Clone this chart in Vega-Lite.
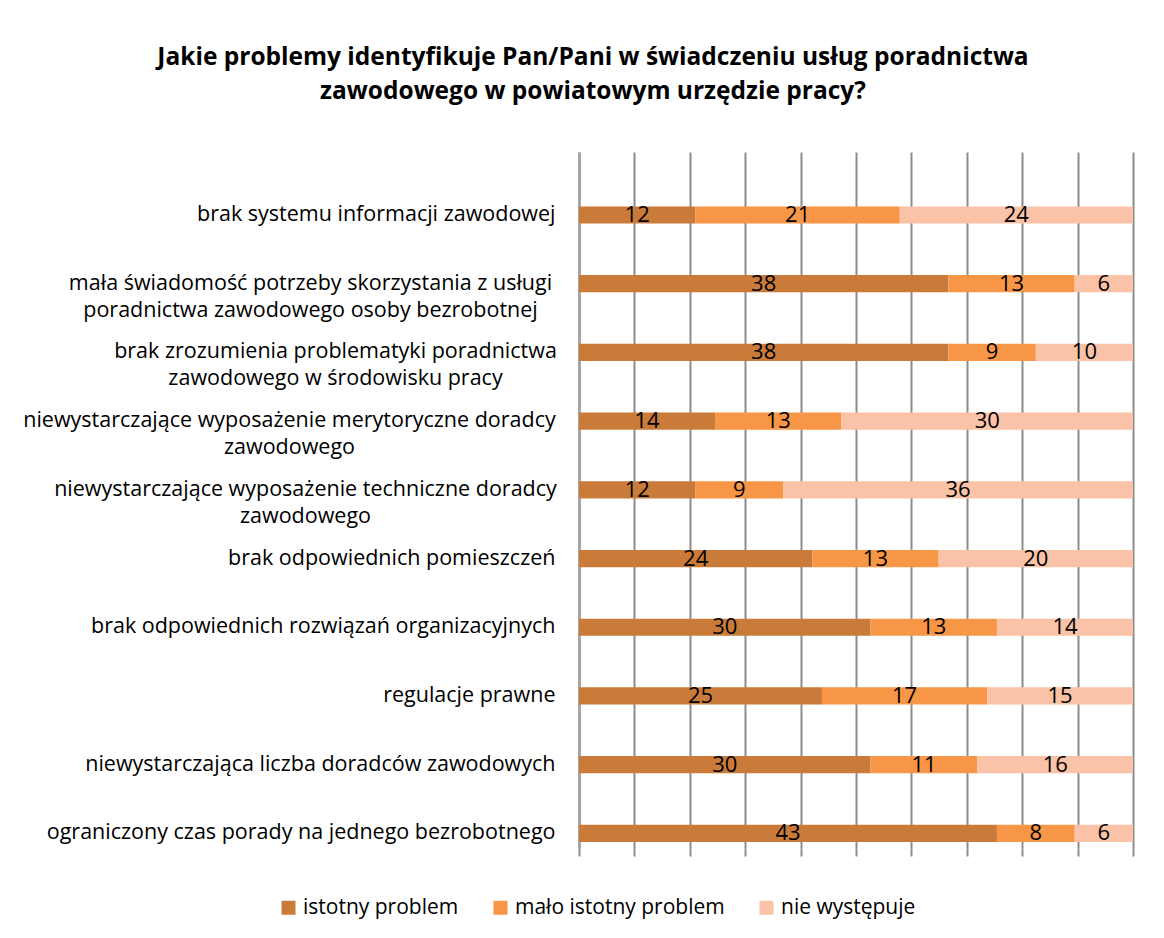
{
  "$schema": "https://vega.github.io/schema/vega-lite/v6.json",
  "width": 554,
  "height": 696,
  "autosize": "none",
  "padding": {"left": 579, "top": 152, "right": 31, "bottom": 90},
  "background": "white",
  "config": {"view": {"stroke": null}, "font": "Open Sans"},
  "title": {
    "text": ["Jakie problemy identyfikuje Pan/Pani w świadczeniu usług poradnictwa", "zawodowego w powiatowym urzędzie pracy?"],
    "font": "Open Sans", "fontSize": 24.5, "fontWeight": "bold", "color": "black",
    "anchor": "middle", "frame": "group", "dx": -263, "offset": 48, "lineHeight": 34
  },
  "data": {"values": [
    {"cat": "brak systemu informacji zawodowej", "s": "istotny problem", "o": 1, "v": 12},
    {"cat": "brak systemu informacji zawodowej", "s": "mało istotny problem", "o": 2, "v": 21},
    {"cat": "brak systemu informacji zawodowej", "s": "nie występuje", "o": 3, "v": 24},
    {"cat": "mała świadomość potrzeby skorzystania z usługi|poradnictwa zawodowego osoby bezrobotnej", "s": "istotny problem", "o": 1, "v": 38},
    {"cat": "mała świadomość potrzeby skorzystania z usługi|poradnictwa zawodowego osoby bezrobotnej", "s": "mało istotny problem", "o": 2, "v": 13},
    {"cat": "mała świadomość potrzeby skorzystania z usługi|poradnictwa zawodowego osoby bezrobotnej", "s": "nie występuje", "o": 3, "v": 6},
    {"cat": "brak zrozumienia problematyki poradnictwa|zawodowego w środowisku pracy", "s": "istotny problem", "o": 1, "v": 38},
    {"cat": "brak zrozumienia problematyki poradnictwa|zawodowego w środowisku pracy", "s": "mało istotny problem", "o": 2, "v": 9},
    {"cat": "brak zrozumienia problematyki poradnictwa|zawodowego w środowisku pracy", "s": "nie występuje", "o": 3, "v": 10},
    {"cat": "niewystarczające wyposażenie merytoryczne doradcy|zawodowego", "s": "istotny problem", "o": 1, "v": 14},
    {"cat": "niewystarczające wyposażenie merytoryczne doradcy|zawodowego", "s": "mało istotny problem", "o": 2, "v": 13},
    {"cat": "niewystarczające wyposażenie merytoryczne doradcy|zawodowego", "s": "nie występuje", "o": 3, "v": 30},
    {"cat": "niewystarczające wyposażenie techniczne doradcy|zawodowego", "s": "istotny problem", "o": 1, "v": 12},
    {"cat": "niewystarczające wyposażenie techniczne doradcy|zawodowego", "s": "mało istotny problem", "o": 2, "v": 9},
    {"cat": "niewystarczające wyposażenie techniczne doradcy|zawodowego", "s": "nie występuje", "o": 3, "v": 36},
    {"cat": "brak odpowiednich pomieszczeń", "s": "istotny problem", "o": 1, "v": 24},
    {"cat": "brak odpowiednich pomieszczeń", "s": "mało istotny problem", "o": 2, "v": 13},
    {"cat": "brak odpowiednich pomieszczeń", "s": "nie występuje", "o": 3, "v": 20},
    {"cat": "brak odpowiednich rozwiązań organizacyjnych", "s": "istotny problem", "o": 1, "v": 30},
    {"cat": "brak odpowiednich rozwiązań organizacyjnych", "s": "mało istotny problem", "o": 2, "v": 13},
    {"cat": "brak odpowiednich rozwiązań organizacyjnych", "s": "nie występuje", "o": 3, "v": 14},
    {"cat": "regulacje prawne", "s": "istotny problem", "o": 1, "v": 25},
    {"cat": "regulacje prawne", "s": "mało istotny problem", "o": 2, "v": 17},
    {"cat": "regulacje prawne", "s": "nie występuje", "o": 3, "v": 15},
    {"cat": "niewystarczająca liczba doradców zawodowych", "s": "istotny problem", "o": 1, "v": 30},
    {"cat": "niewystarczająca liczba doradców zawodowych", "s": "mało istotny problem", "o": 2, "v": 11},
    {"cat": "niewystarczająca liczba doradców zawodowych", "s": "nie występuje", "o": 3, "v": 16},
    {"cat": "ograniczony czas porady na jednego bezrobotnego", "s": "istotny problem", "o": 1, "v": 43},
    {"cat": "ograniczony czas porady na jednego bezrobotnego", "s": "mało istotny problem", "o": 2, "v": 8},
    {"cat": "ograniczony czas porady na jednego bezrobotnego", "s": "nie występuje", "o": 3, "v": 6}
  ]},
  "transform": [
    {"stack": "v", "groupby": ["cat"], "sort": [{"field": "o", "order": "ascending"}], "offset": "normalize", "as": ["x0", "x1"]},
    {"calculate": "(datum.x0 + datum.x1) / 2", "as": "xm"}
  ],
  "encoding": {
    "y": {
      "field": "cat", "type": "nominal", "sort": null,
      "scale": {"paddingInner": 0.75, "paddingOuter": 0.44, "align": 0.9},
      "axis": {
        "title": null, "ticks": false, "domainColor": "#A6A6A6", "domainWidth": 3,
        "labelFont": "Open Sans", "labelFontSize": 21.5, "labelColor": "black", "labelLimit": 0,
        "labelExpr": "split(datum.value, '|')", "labelLineHeight": 27,
        "labelAlign": {"condition": {"test": "indexof(datum.value, '|') >= 0", "value": "center"}, "value": "right"},
        "labelPadding": {"condition": [
          {"test": "indexof(datum.value, 'mała') == 0", "value": 269},
          {"test": "indexof(datum.value, 'brak zrozumienia') == 0", "value": 244},
          {"test": "indexof(datum.value, 'niewystarczające wyposażenie m') == 0", "value": 290},
          {"test": "indexof(datum.value, 'niewystarczające wyposażenie t') == 0", "value": 274}
        ], "value": 24}
      }
    }
  },
  "layer": [
    {
      "mark": {"type": "bar"},
      "encoding": {
        "x": {"field": "x0", "type": "quantitative", "scale": {"domain": [0, 1], "nice": false},
          "axis": {"values": [0, 0.1, 0.2, 0.3, 0.4, 0.5, 0.6, 0.7, 0.8, 0.9, 1], "labels": false, "domain": false, "title": null,
            "grid": true, "gridColor": "#8C8C8C", "gridWidth": 2, "ticks": true, "tickColor": "#8C8C8C", "tickSize": 8, "tickWidth": 2}},
        "x2": {"field": "x1"},
        "color": {"field": "s", "type": "nominal",
          "scale": {"domain": ["istotny problem", "mało istotny problem", "nie występuje"], "range": ["#CB7B39", "#F79646", "#FAC2A6"]},
          "legend": {"title": null, "orient": "none", "legendX": -301, "legendY": 745, "direction": "horizontal",
            "symbolType": "square", "symbolSize": 196, "symbolStrokeWidth": 0, "labelFont": "Open Sans", "labelFontSize": 21, "labelColor": "black",
            "labelLimit": 0, "columnPadding": 31, "labelOffset": 4}}
      }
    },
    {
      "mark": {"type": "text", "font": "Open Sans", "fontSize": 22, "color": "black", "align": "center", "baseline": "middle"},
      "encoding": {
        "x": {"field": "xm", "type": "quantitative"},
        "text": {"field": "v", "type": "quantitative"}
      }
    }
  ]
}
